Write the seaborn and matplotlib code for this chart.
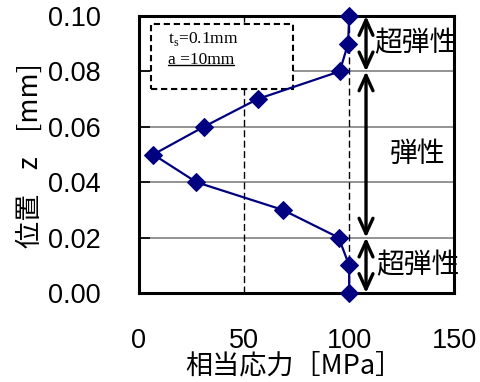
import matplotlib
matplotlib.use("Agg")
import matplotlib.pyplot as plt
from matplotlib.patches import Rectangle
from matplotlib.lines import Line2D
import seaborn as sns
import pandas as pd

# Equivalent stress through the thickness
positions = [0.10, 0.09, 0.08, 0.07, 0.06, 0.05, 0.04, 0.03, 0.02, 0.01, 0.00]
stress = [100, 99.5, 95.5, 56.5, 31, 7, 27.5, 68.5, 95, 100, 100]

x_ticks = [0, 50, 100, 150]
y_ticks = [0.00, 0.02, 0.04, 0.06, 0.08, 0.10]
y_tick_labels = ["0.00", "0.02", "0.04", "0.06", "0.08", "0.10"]
ref_lines = [50, 100]

# Material zones along z
zone_bounds = [0.10, 0.08, 0.02, 0.00]
zone_labels = ["超弾性", "弾性", "超弾性"]
zone_label_x = [131.5, 132.5, 132.5]
arrow_x = 108

note_lines = ["t$_\\mathrm{s}$=0.1mm", "a =10mm"]

sns.set_theme(style="white")
plt.rcParams["font.family"] = ["Noto Sans CJK JP", "DejaVu Sans"]
plt.rcParams["mathtext.fontset"] = "custom"
plt.rcParams["mathtext.rm"] = "Liberation Serif"

W, H = 480, 382
fig = plt.figure(figsize=(W / 100, H / 100), dpi=100)
ax = fig.add_axes([138.5 / W, 1 - 293 / H, 316 / W, 277 / H])

df = pd.DataFrame({"stress": stress, "z": positions})
sns.lineplot(data=df, x="stress", y="z", sort=False, estimator=None,
             color="#000080", lw=1.6, marker="D", markersize=9,
             markeredgecolor="#000080", markerfacecolor="#000080",
             clip_on=False, zorder=6, ax=ax)

ax.set_xlim(0, 150)
ax.set_ylim(0, 0.10)
ax.set_xticks(x_ticks)
ax.set_yticks(y_ticks)
ax.set_yticklabels(y_tick_labels)

# horizontal grid
ax.yaxis.grid(True, color="#808080", lw=1.2)
ax.xaxis.grid(False)
ax.set_axisbelow(True)
for v in ref_lines:
    ax.axvline(v, color="black", lw=1.0, ls=(0, (5, 2.5)), zorder=1.5)

for s in ax.spines.values():
    s.set_color("black")
    s.set_linewidth(2.2)
    s.set_visible(True)

ax.tick_params(axis="y", direction="in", length=8, width=1.2, color="black",
               pad=27, labelsize=19.5, left=True, labelcolor="black")
ax.tick_params(axis="x", direction="in", length=0, pad=25, labelsize=19.5,
               labelcolor="black")
for lab in ax.get_xticklabels() + ax.get_yticklabels():
    lab.set_family("Liberation Sans")

ax.set_xlabel("相当応力［MPa］", fontsize=19.5, color="black", va="center")
ax.xaxis.set_label_coords(0.492, -0.262)
ax.set_ylabel("位置    z    [mm]", fontsize=19.5, color="black", va="center")
ax.yaxis.set_label_coords(-0.343, 0.495)

# zone arrows and labels
for i in range(len(zone_bounds) - 1):
    ax.annotate("", xy=(arrow_x, zone_bounds[i]), xytext=(arrow_x, zone_bounds[i + 1]),
                arrowprops=dict(arrowstyle="<->,head_length=0.55,head_width=0.25",
                                lw=2.4, color="black", shrinkA=0, shrinkB=0,
                                mutation_scale=20),
                annotation_clip=False, zorder=4)
    mid = (zone_bounds[i] + zone_bounds[i + 1]) / 2
    ax.text(zone_label_x[i], mid, zone_labels[i], fontsize=20, ha="center",
            va="center", color="black", zorder=5)

# parameter box
ax.add_patch(Rectangle((0.0396, 0.736), 0.449, 0.235, transform=ax.transAxes,
                       facecolor="white", edgecolor="black", lw=1.5,
                       ls=(0, (3, 1.8)), zorder=3))
t1 = ax.text(0.092, 0.917, note_lines[0], transform=ax.transAxes, fontsize=12.5,
             family="Liberation Serif", ha="left", va="center", color="black", zorder=4)
t2 = ax.text(0.092, 0.842, note_lines[1], transform=ax.transAxes, fontsize=12.5,
             family="Liberation Serif", ha="left", va="center", color="black", zorder=4)

fig.canvas.draw()
bb = t2.get_window_extent()
yline = bb.y0 + 2.5
fig.add_artist(Line2D([bb.x0 / W, bb.x1 / W], [yline / H, yline / H],
                      transform=fig.transFigure, color="black", lw=1.0))

fig.savefig("out.png", dpi=100)
